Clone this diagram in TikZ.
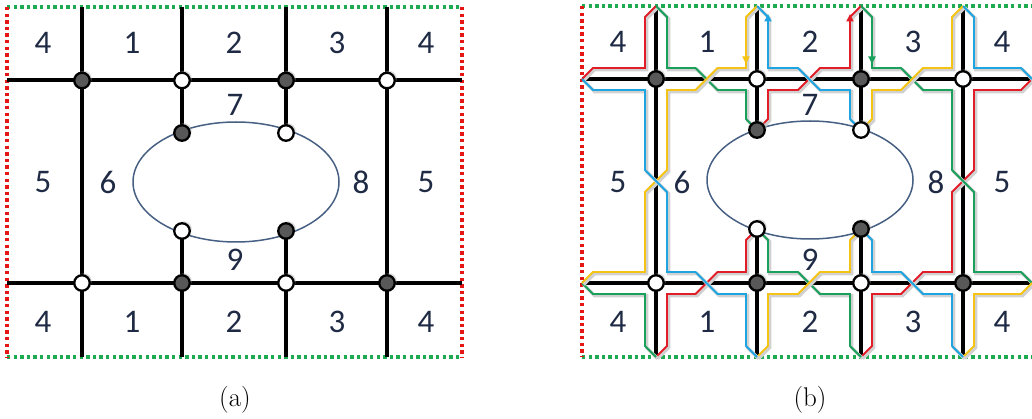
\documentclass[tikz,border=0pt]{standalone}
\usepackage{fontspec}
\newfontfamily\numfont{Carlito}
\usetikzlibrary{arrows.meta,shadows}
\definecolor{txt}{RGB}{31,42,68}
\definecolor{ellc}{RGB}{70,95,130}
\definecolor{dkn}{RGB}{88,88,88}
\definecolor{frR}{RGB}{228,22,22}
\definecolor{frG}{RGB}{30,170,80}
\definecolor{sR}{RGB}{225,30,40}
\definecolor{sG}{RGB}{25,160,90}
\definecolor{sY}{RGB}{245,195,20}
\definecolor{sB}{RGB}{30,165,225}
\newcommand\strand[2]{\draw[shd] #2; \draw[st,#1] #2;}
\tikzset{
  edgeline/.style={line width=4pt, black},
  ellline/.style={line width=1.5pt, ellc},
  lbl/.style={font=\numfont\fontsize{33}{33}\selectfont, text=txt, inner sep=0pt},
  captext/.style={font=\fontsize{27}{27}\selectfont, inner sep=0pt, anchor=base},
  vdot/.style={circle, draw=black, line width=2.3pt, minimum size=15.5pt, inner sep=0pt,
     drop shadow={shadow xshift=2pt, shadow yshift=2pt, fill=black!30, opacity=0.45}},
  dk/.style={vdot, fill=dkn},
  wt/.style={vdot, fill=white},
  dotR/.style={draw=frR, line width=3.6pt, dash pattern=on 3.4pt off 3.2pt},
  dotG/.style={draw=frG, line width=3.6pt, dash pattern=on 3.4pt off 3.2pt},
  shd/.style={draw=black!18, line width=3.4pt, shift={(1.6,1.6)}, line join=miter},
  st/.style={line width=1.9pt, line join=miter},
  arr/.style={st, -{Triangle[length=7.5pt,width=7pt]}}
}
\begin{document}
\begin{tikzpicture}[x=1pt,y=-1pt]
\useasboundingbox (0,0) rectangle (1032,419);
% ================= panel (a) =================
\coordinate (aT1) at (82,80.5); \coordinate (aT2) at (182,80.5);
\coordinate (aT3) at (286,80.5); \coordinate (aT4) at (387,80.5);
\coordinate (aU2) at (182,133); \coordinate (aU3) at (286,133);
\coordinate (aL2) at (182,231); \coordinate (aL3) at (286,231);
\coordinate (aB1) at (82,283); \coordinate (aB2) at (182,283);
\coordinate (aB3) at (286,283); \coordinate (aB4) at (387,283);
\coordinate (aW1) at (7,80.5); \coordinate (aE1) at (462,80.5);
\coordinate (aW2) at (7,283); \coordinate (aE2) at (462,283);
\coordinate (aN1) at (82,7); \coordinate (aN2) at (182,7);
\coordinate (aN3) at (286,7); \coordinate (aN4) at (387,7);
\coordinate (aS1) at (82,357); \coordinate (aS2) at (182,357);
\coordinate (aS3) at (286,357); \coordinate (aS4) at (387,357);
\coordinate (aNW) at (7,7); \coordinate (aNE) at (462,7);
\coordinate (aSW) at (7,357); \coordinate (aSE) at (462,357);
\draw[dotG] (aNW) -- (aNE);
\draw[dotG] (aSW) -- (aSE);
\draw[dotR] (aNW) -- (aSW);
\draw[dotR] (aNE) -- (aSE);
\draw[edgeline] (aW1) -- (aE1);
\draw[edgeline] (aW2) -- (aE2);
\draw[edgeline] (aN1) -- (aS1);
\draw[edgeline] (aN4) -- (aS4);
\draw[edgeline] (aN2) -- (aU2);
\draw[edgeline] (aN3) -- (aU3);
\draw[edgeline] (aL2) -- (aS2);
\draw[edgeline] (aL3) -- (aS3);
\draw[ellline] (236,182) ellipse [x radius=103, y radius=60];
\node[dk] (naT1) at (aT1) {}; \node[wt] (naT2) at (aT2) {};
\node[dk] (naT3) at (aT3) {}; \node[wt] (naT4) at (aT4) {};
\node[dk] (naU2) at (aU2) {}; \node[wt] (naU3) at (aU3) {};
\node[wt] (naL2) at (aL2) {}; \node[dk] (naL3) at (aL3) {};
\node[wt] (naB1) at (aB1) {}; \node[dk] (naB2) at (aB2) {};
\node[wt] (naB3) at (aB3) {}; \node[dk] (naB4) at (aB4) {};
\node[lbl] (la1) at (43,43) {4};  \node[lbl] (la2) at (132,43) {1};
\node[lbl] (la3) at (234,43) {2}; \node[lbl] (la4) at (337,43) {3};
\node[lbl] (la5) at (426,43) {4};
\node[lbl] (la6) at (43,182) {5}; \node[lbl] (la7) at (108,182) {6};
\node[lbl] (la8) at (361,182) {8}; \node[lbl] (la9) at (426,182) {5};
\node[lbl] (la10) at (235,105) {7}; \node[lbl] (la11) at (235,260) {9};
\node[lbl] (la12) at (43,322) {4};  \node[lbl] (la13) at (132,322) {1};
\node[lbl] (la14) at (234,322) {2}; \node[lbl] (la15) at (337,322) {3};
\node[lbl] (la16) at (426,322) {4};
\node[captext] (capa) at (235,406) {(a)};
% ================= panel (b) =================
\coordinate (bT1) at (656,79); \coordinate (bT2) at (757,79);
\coordinate (bT3) at (861,79); \coordinate (bT4) at (963,79);
\coordinate (bU2) at (757,130); \coordinate (bU3) at (861,130);
\coordinate (bL2) at (757,229); \coordinate (bL3) at (861,229);
\coordinate (bB1) at (656,283); \coordinate (bB2) at (757,283);
\coordinate (bB3) at (861,283); \coordinate (bB4) at (963,283);
\coordinate (bW1) at (582,79); \coordinate (bE1) at (1032,79);
\coordinate (bW2) at (582,283); \coordinate (bE2) at (1032,283);
\coordinate (bN1) at (656,6); \coordinate (bN2) at (757,6);
\coordinate (bN3) at (861,6); \coordinate (bN4) at (963,6);
\coordinate (bS1) at (656,357); \coordinate (bS2) at (757,357);
\coordinate (bS3) at (861,357); \coordinate (bS4) at (963,357);
\coordinate (bNW) at (582,6); \coordinate (bNE) at (1032,6);
\coordinate (bSW) at (582,357); \coordinate (bSE) at (1032,357);
\draw[dotG] (bNW) -- (bNE);
\draw[dotG] (bSW) -- (bSE);
\draw[dotR] (bNW) -- (bSW);
\draw[edgeline] (bW1) -- (bE1);
\draw[edgeline] (bW2) -- (bE2);
\draw[edgeline] (bN1) -- (bS1);
\draw[edgeline] (bN4) -- (bS4);
\draw[edgeline] (bN2) -- (bU2);
\draw[edgeline] (bN3) -- (bU3);
\draw[edgeline] (bL2) -- (bS2);
\draw[edgeline] (bL3) -- (bS3);
\draw[ellline] (810,180) ellipse [x radius=103, y radius=59];
% red strands
\strand{sR}{(757,130) -- (768,119) -- (768,90) -- (798,90) -- (820,68) -- (850,68) -- (850,17) -- (861,6)}
\strand{sR}{(861,357) -- (872,346) -- (872,294) -- (901,294) -- (923,272) -- (952,272) -- (952,192) -- (974,170) -- (974,90) -- (1021,90) -- (1032,79)}
\strand{sR}{(582,79) -- (593,68) -- (645,68) -- (645,17) -- (656,6)}
\strand{sR}{(656,357) -- (667,346) -- (667,294) -- (695.5,294) -- (717.5,272) -- (746,272) -- (746,240) -- (757,229)}
% green strands
\strand{sG}{(757,229) -- (768,240) -- (768,272) -- (798,272) -- (820,294) -- (850,294) -- (850,346) -- (861,357)}
\strand{sG}{(861,6) -- (872,17) -- (872,68) -- (901,68) -- (923,90) -- (952,90) -- (952,170) -- (974,192) -- (974,272) -- (1021,272) -- (1032,283)}
\strand{sG}{(582,283) -- (593,294) -- (645,294) -- (645,346) -- (656,357)}
\strand{sG}{(656,6) -- (667,17) -- (667,68) -- (695.5,68) -- (717.5,90) -- (746,90) -- (746,119) -- (757,130)}
% yellow strands
\strand{sY}{(861,229) -- (850,240) -- (850,272) -- (820,272) -- (798,294) -- (768,294) -- (768,346) -- (757,357)}
\strand{sY}{(757,6) -- (746,17) -- (746,68) -- (717.5,68) -- (695.5,90) -- (667,90) -- (667,170) -- (645,192) -- (645,272) -- (593,272) -- (582,283)}
\strand{sY}{(1032,283) -- (1021,294) -- (974,294) -- (974,346) -- (963,357)}
\strand{sY}{(963,6) -- (952,17) -- (952,68) -- (923,68) -- (901,90) -- (872,90) -- (872,119) -- (861,130)}
% blue strands
\strand{sB}{(861,130) -- (850,119) -- (850,90) -- (820,90) -- (798,68) -- (768,68) -- (768,17) -- (757,6)}
\strand{sB}{(757,357) -- (746,346) -- (746,294) -- (717.5,294) -- (695.5,272) -- (667,272) -- (667,192) -- (645,170) -- (645,90) -- (593,90) -- (582,79)}
\strand{sB}{(1032,79) -- (1021,68) -- (974,68) -- (974,17) -- (963,6)}
\strand{sB}{(963,357) -- (952,346) -- (952,294) -- (923,294) -- (901,272) -- (872,272) -- (872,240) -- (861,229)}
% arrowheads
\coordinate (ya1) at (746,45); \coordinate (ya2) at (746,64);
\coordinate (ga1) at (872,45); \coordinate (ga2) at (872,64);
\coordinate (ba1) at (768,32); \coordinate (ba2) at (768,14);
\coordinate (ra1) at (850,32); \coordinate (ra2) at (850,14);
\draw[arr, sY] (ya1) -- (ya2);
\draw[arr, sG] (ga1) -- (ga2);
\draw[arr, sB] (ba1) -- (ba2);
\draw[arr, sR] (ra1) -- (ra2);
\node[dk] (nbT1) at (bT1) {}; \node[wt] (nbT2) at (bT2) {};
\node[dk] (nbT3) at (bT3) {}; \node[wt] (nbT4) at (bT4) {};
\node[dk] (nbU2) at (bU2) {}; \node[wt] (nbU3) at (bU3) {};
\node[wt] (nbL2) at (bL2) {}; \node[dk] (nbL3) at (bL3) {};
\node[wt] (nbB1) at (bB1) {}; \node[dk] (nbB2) at (bB2) {};
\node[wt] (nbB3) at (bB3) {}; \node[dk] (nbB4) at (bB4) {};
\node[lbl] (lb1) at (618,42) {4};  \node[lbl] (lb2) at (707,42) {1};
\node[lbl] (lb3) at (810,42) {2};  \node[lbl] (lb4) at (913,42) {3};
\node[lbl] (lb5) at (1002,42) {4};
\node[lbl] (lb6) at (618,182) {5}; \node[lbl] (lb7) at (682,182) {6};
\node[lbl] (lb8) at (936,182) {8}; \node[lbl] (lb9) at (1002,182) {5};
\node[lbl] (lb10) at (810,105) {7}; \node[lbl] (lb11) at (810,260) {9};
\node[lbl] (lb12) at (618,322) {4};  \node[lbl] (lb13) at (707,322) {1};
\node[lbl] (lb14) at (810,322) {2};  \node[lbl] (lb15) at (913,322) {3};
\node[lbl] (lb16) at (1002,322) {4};
\node[captext] (capb) at (810,406) {(b)};
\end{tikzpicture}
\end{document}
